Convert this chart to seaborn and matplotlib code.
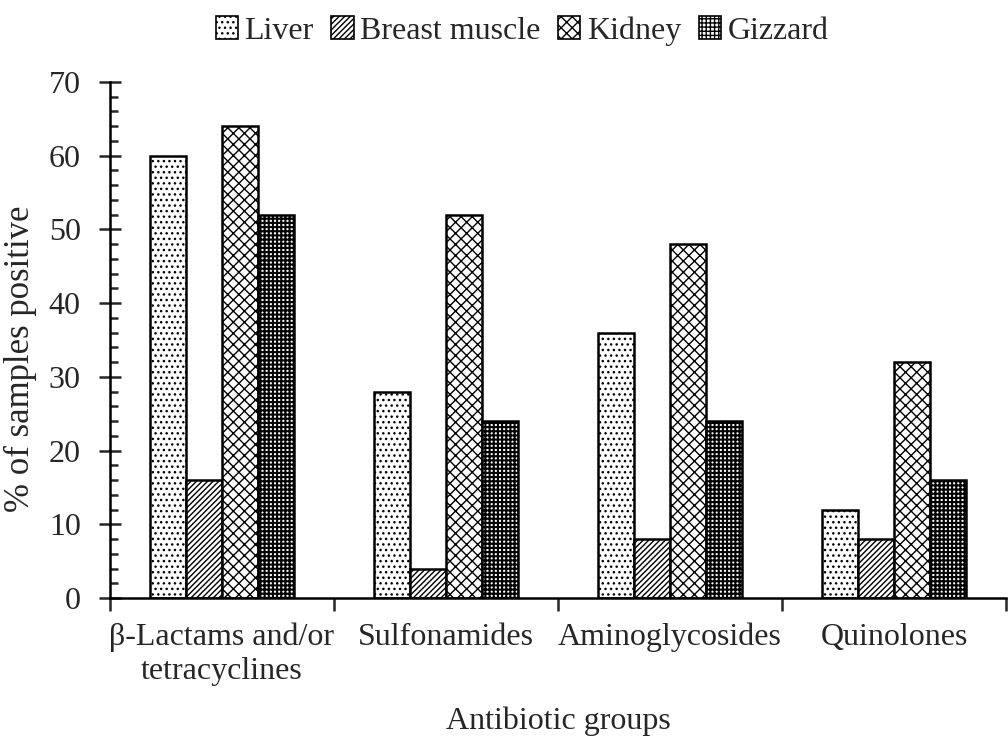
import pandas as pd
import matplotlib
matplotlib.use("Agg")
import matplotlib.pyplot as plt
import seaborn as sns
from matplotlib.ticker import MultipleLocator
from matplotlib.patches import Patch

sns.set_style("white")
plt.rcParams['font.family'] = ['Liberation Serif', 'DejaVu Serif']
plt.rcParams['hatch.linewidth'] = 1.0

grupos = ['β-Lactams and/or\ntetracyclines', 'Sulfonamides', 'Aminoglycosides', 'Quinolones']
muestras = ['Liver', 'Breast muscle', 'Kidney', 'Gizzard']
liver = [60, 28, 36, 12]
breast = [16, 4, 8, 8]
kidney = [64, 52, 48, 32]
gizzard = [52, 24, 24, 16]
patrones = ['...', '//////', 'xxx', '++++']
grosor_hatch = [1.0, 1.0, 1.0, 1.5]

df = pd.DataFrame({
    'grupo': grupos * 4,
    'muestra': [m for m in muestras for _ in grupos],
    'valor': liver + breast + kidney + gizzard,
})

fig, ax = plt.subplots(figsize=(10.08, 7.36), dpi=100)
fig.subplots_adjust(left=0.109, right=0.998, bottom=0.1875, top=0.8886)

sns.barplot(data=df, x='grupo', y='valor', hue='muestra', order=grupos,
            hue_order=muestras, palette=['white'] * 4,
            edgecolor='black', linewidth=1.8, width=0.645, ax=ax, legend=False)


def poner_hatch(p, pat, lw):
    p.set_hatch(pat)
    p.set_facecolor('white')
    p.set_edgecolor('black')
    if hasattr(p, 'set_hatch_linewidth'):
        p.set_hatch_linewidth(lw)


for cont, pat, lw in zip(ax.containers, patrones, grosor_hatch):
    for barra in cont:
        poner_hatch(barra, pat, lw)

# leyenda con cuadritos
handles = []
for pat, lw in zip(patrones, grosor_hatch):
    h = Patch(linewidth=1.2)
    poner_hatch(h, pat, lw)
    handles.append(h)
fig.legend(handles, muestras, loc='center', bbox_to_anchor=(0.518, 0.958), ncol=4,
           frameon=False, fontsize=23, handlelength=0.7, handleheight=0.7,
           handletextpad=0.2, columnspacing=0.55)

ax.set_ylim(0, 70)
ax.set_xlim(-0.5, 3.5)
ax.yaxis.set_major_locator(MultipleLocator(10))
ax.yaxis.set_minor_locator(MultipleLocator(2))
ax.tick_params(axis='y', which='major', direction='inout', length=16, width=1.8,
               labelsize=23, left=True, pad=13)
ax.tick_params(axis='y', which='minor', direction='in', length=6, width=1.8, left=True)

ax.set_xticks([-0.5, 0.5, 1.5, 2.5, 3.5])
ax.set_xticklabels([])
ax.set_xticks([0, 1, 2, 3], minor=True)
ax.set_xticklabels(grupos, minor=True)
ax.tick_params(axis='x', which='major', direction='out', length=9, width=1.8, bottom=True)
ax.tick_params(axis='x', which='minor', length=0, labelsize=23, pad=18)

for s in ['top', 'right']:
    ax.spines[s].set_visible(False)
for s in ['left', 'bottom']:
    ax.spines[s].set_color('black')
    ax.spines[s].set_linewidth(1.8)

ax.set_ylabel('% of samples positive', fontsize=25)
ax.yaxis.set_label_coords(-0.081, 0.463)
ax.set_xlabel('Antibiotic groups', fontsize=23)
ax.xaxis.set_label_coords(0.5, -0.21)
ax.grid(False)

fig.savefig('out.png', dpi=100)
